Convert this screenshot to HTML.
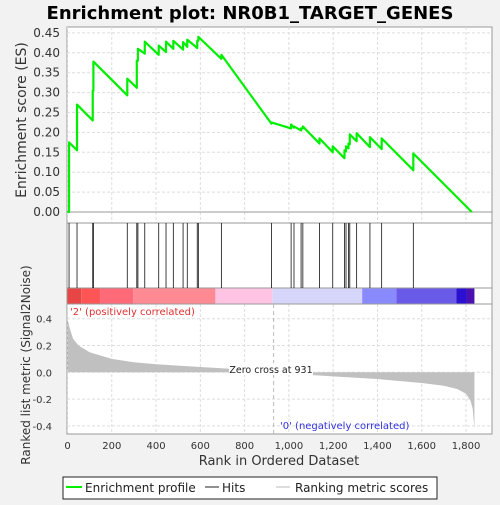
<!DOCTYPE html>
<html><head><meta charset="utf-8"><style>
body{margin:0;background:#f2f2f2;font-family:"Liberation Sans","DejaVu Sans",sans-serif}
</style></head><body>
<svg id="c" width="500" height="500" xmlns="http://www.w3.org/2000/svg" font-family="DejaVu Sans, Liberation Sans, sans-serif">
<rect width="500" height="500" fill="#f2f2f2"/>
<text x="250" y="19" text-anchor="middle" font-size="18" font-weight="bold">Enrichment plot: NR0B1_TARGET_GENES</text>
<rect x="67" y="27" width="425" height="407" fill="#fff" stroke="#999"/>
<g id="grid"></g>
<g id="marks"></g>
<text transform="translate(26,120) rotate(-90)" text-anchor="middle" font-size="14" fill="#333">Enrichment score (ES)</text>
<text transform="translate(30,365) rotate(-90)" text-anchor="middle" font-size="12" fill="#333">Ranked list metric (Signal2Noise)</text>
<text x="279" y="465" text-anchor="middle" font-size="13" fill="#333">Rank in Ordered Dataset</text>
<text x="70" y="315" font-size="10" fill="#e03030">'2' (positively correlated)</text>
<text x="280" y="429" font-size="10" fill="#3030e0">'0' (negatively correlated)</text>
<g>
<rect x="63" y="477" width="374" height="22" fill="#fff" stroke="#222"/>
<line x1="66" y1="487" x2="82" y2="487" stroke="#00ee00" stroke-width="2"/>
<text x="85" y="492" font-size="12" fill="#222">Enrichment profile</text>
<line x1="205" y1="487" x2="219" y2="487" stroke="#222"/>
<text x="222" y="492" font-size="12" fill="#222">Hits</text>
<line x1="276" y1="487" x2="290" y2="487" stroke="#bbb"/>
<text x="295" y="492" font-size="12" fill="#222">Ranking metric scores</text>
</g>
</svg>
<script>
const hitRanks=[7,43,114,117,270,313,318,349,412,445,478,522,541,586,591,695,921,1010,1023,1055,1063,1138,1198,1251,1258,1269,1275,1306,1366,1419,1562];
const esBefore=[0,0.155,0.23,0.305,0.293,0.312,0.38,0.398,0.395,0.402,0.41,0.408,0.415,0.412,0.43,0.385,0.222,0.21,0.212,0.205,0.21,0.172,0.15,0.135,0.152,0.16,0.17,0.178,0.163,0.158,0.105];
const esAfter=[0.175,0.27,0.305,0.378,0.335,0.38,0.41,0.428,0.418,0.428,0.43,0.427,0.433,0.43,0.44,0.395,0.225,0.22,0.215,0.21,0.215,0.185,0.165,0.155,0.165,0.172,0.195,0.198,0.188,0.185,0.147];
const totalGenes=1838;
const metricRanks=[0,10,25,50,100,200,300,400,600,800,931,1000,1200,1400,1600,1700,1760,1800,1820,1830,1838];
const metricVals=[0.4,0.33,0.25,0.2,0.15,0.1,0.075,0.06,0.04,0.02,0,-0.01,-0.03,-0.05,-0.08,-0.1,-0.125,-0.16,-0.21,-0.27,-0.42];
const xTicks=[0,200,400,600,800,1000,1200,1400,1600,1800];
const esTicks=[0,0.05,0.1,0.15,0.2,0.25,0.3,0.35,0.4,0.45];
const metTicks=[-0.4,-0.2,0,0.2,0.4];
const colorBands=[[0,62,'#e84545'],[62,147,'#ff5555'],[147,296,'#ff6a78'],[296,668,'#ff8a94'],[668,925,'#ffc4e2'],[925,1331,'#d6d6fa'],[1331,1485,'#8a8aff'],[1485,1756,'#6a5ae8'],[1756,1802,'#2a10d0'],[1802,1838,'#4a10b0']];
const X=r=>67.5+r*0.2214, YE=v=>212-v*398, YM=v=>372.3-v*134;
const ns='http://www.w3.org/2000/svg';
function mk(t,a,p){const e=document.createElementNS(ns,t);for(const k in a)e.setAttribute(k,a[k]);p.appendChild(e);return e;}
const g=document.getElementById('grid'),m=document.getElementById('marks');
xTicks.forEach(t=>{
 const l=mk('line',{x1:X(t),x2:X(t),y1:27,y2:223,stroke:'#ddd','stroke-dasharray':'3,2'},g);
 
 const l2=mk('line',{x1:X(t),x2:X(t),y1:304,y2:434,stroke:'#ddd','stroke-dasharray':'3,2'},g);
 
 const tx=mk('text',{x:X(t),y:449,'text-anchor':'middle','font-size':'10',fill:'#333'},g);tx.textContent=t.toLocaleString('en-US');
 
});
esTicks.forEach(t=>{
 const l=mk('line',{x1:67,x2:492,y1:YE(t),y2:YE(t),stroke:t===0?'#999':'#ddd','stroke-dasharray':t===0?'':'3,2'},g);
 
 const tx=mk('text',{x:60,y:YE(t)+4,'text-anchor':'end','font-size':'12',fill:'#333'},g);tx.textContent=t.toFixed(2);
 
});
metTicks.forEach(t=>{
 const l=mk('line',{x1:67,x2:492,y1:YM(t),y2:YM(t),stroke:'#ddd','stroke-dasharray':'3,2'},g);
 
 const tx=mk('text',{x:52,y:YM(t)+4,'text-anchor':'end','font-size':'10',fill:'#333'},g);tx.textContent=t.toFixed(1);
 
});
[223,288,304].forEach(y=>{const l=mk('line',{x1:67,x2:492,y1:y,y2:y,stroke:'#999'},m);});
colorBands.forEach(b=>{const r=mk('rect',{x:X(b[0]),y:288.5,width:X(b[1])-X(b[0]),height:15,fill:b[2]},m);});
hitRanks.forEach(r=>{const l=mk('line',{x1:X(r),x2:X(r),y1:223,y2:288,stroke:'#111','stroke-width':0.8},m);});
let d='M'+X(0)+','+YM(0);
metricRanks.forEach((r,i)=>{d+=' L'+X(r)+','+YM(metricVals[i]);});
d+=' L'+X(totalGenes)+','+YM(0)+' Z';
const ar=mk('path',{d:d,fill:'#c0c0c0',stroke:'none'},m);
const zc=mk('line',{x1:X(931),x2:X(931),y1:304,y2:434,stroke:'#bbb','stroke-dasharray':'4,3'},m);
const zt=mk('rect',{x:229,y:363,width:84,height:12,fill:'#fff'},m);
const zl=mk('text',{x:271,y:373,'text-anchor':'middle','font-size':'9.5',fill:'#222'},m);zl.textContent='Zero cross at 931';
let pts=[[0,0]];
hitRanks.forEach((r,i)=>{pts.push([r,esBefore[i]]);pts.push([r,esAfter[i]]);});
pts.push([totalGenes-12,0]);
const pl=mk('polyline',{points:pts.map(p=>X(p[0])+','+YE(p[1])).join(' '),fill:'none',stroke:'#00ee00','stroke-width':2.2,'stroke-linejoin':'round'},m);

</script>
</body></html>
